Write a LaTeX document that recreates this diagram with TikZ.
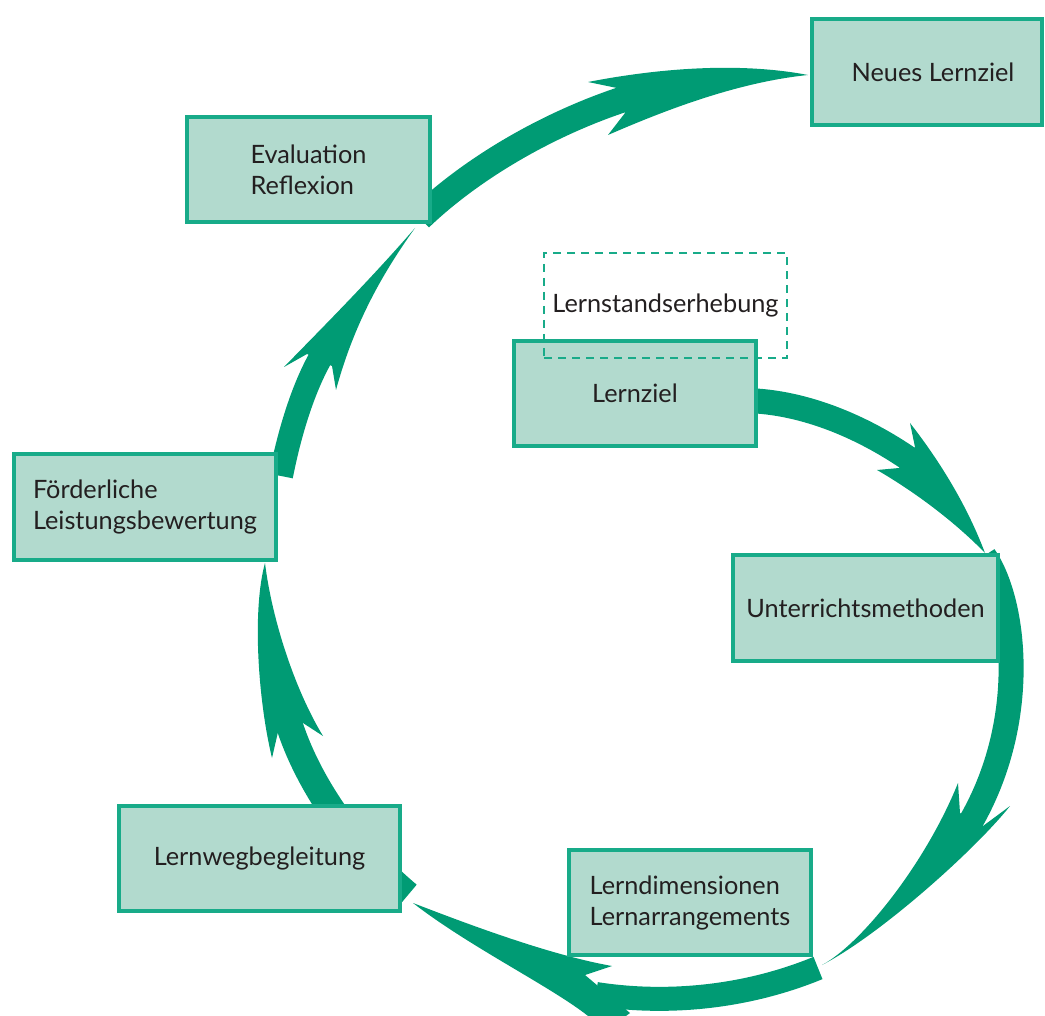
\documentclass[tikz,border=0pt]{standalone}
\usepackage{fontspec}
\setmainfont{Lato}
\definecolor{arrowc}{RGB}{0,155,116}
\definecolor{boxline}{RGB}{24,171,137}
\definecolor{boxfill}{RGB}{178,218,206}
\definecolor{textc}{RGB}{35,31,32}
\tikzset{
  box/.style={draw=boxline, line width=4pt, fill=boxfill, text=textc, align=left,
    font=\fontsize{25.3}{31}\selectfont, inner sep=0pt},
  dbox/.style={draw=boxline, line width=2pt, dash pattern=on 8pt off 6pt, text=textc,
    font=\fontsize{25.3}{31}\selectfont, inner sep=0pt},
  shaft/.style={draw=arrowc, line width=25pt, line cap=butt},
  head/.style={fill=arrowc, draw=none},
}
\begin{document}
\begin{tikzpicture}[x=1pt,y=-1pt]
\useasboundingbox (0,0) rectangle (1045,1016);
\begin{scope}
\clip (0,0) rectangle (1045,1016);
% Arrow 1: Lernziel -> Unterrichtsmethoden
\draw[shaft] (740,400.5) .. controls (800,400) and (862,426) .. (912,461);
\fill[head] (915,447) -- (910,423)
  .. controls (935,455) and (965,500) .. (985,553)
  .. controls (955,522) and (915,492) .. (877,470)
  -- (899,468) -- cycle;
% Arrow 2: Unterrichtsmethoden -> Lerndimensionen
\draw[shaft] (984,556) .. controls (1015,600) and (1030,720) .. (970,823);
\fill[head] (983,826) -- (1010,806)
  .. controls (975,850) and (880,935) .. (822,965)
  .. controls (860,945) and (925,865) .. (958,783)
  -- (960,813) -- cycle;
% Arrow 3: Lerndimensionen -> Lernwegbegleitung
\draw[shaft, line width=24pt] (818,968) .. controls (740,1000) and (660,1004) .. (596,994);
\fill[head] (630,1013) -- (605,1032)
  .. controls (580,1000) and (480,955) .. (413,903)
  .. controls (470,925) and (550,955) .. (612,966)
  -- (585,975) -- cycle;
% Arrow 4: Lernwegbegleitung -> Foerderliche
\draw[shaft, line width=27pt] (408,895) .. controls (360,855) and (310,790) .. (289,724);
\fill[head] (303,723) -- (323,736)
  .. controls (295,690) and (272,620) .. (265,563)
  .. controls (252,610) and (258,700) .. (272,758)
  -- (278,732) -- cycle;
% Arrow 5: Foerderliche -> Evaluation
\draw[shaft, line width=24pt] (281,476) .. controls (288,440) and (301,392) .. (321,357);
\fill[head] (307,354) -- (284,367)
  .. controls (320,330) and (370,280) .. (415,228)
  .. controls (385,270) and (355,320) .. (336,390)
  -- (332,366) -- cycle;
% Arrow 6: Evaluation -> Neues Lernziel
\draw[shaft, line width=26pt] (420,218) .. controls (470,170) and (545,125) .. (624,99);
\fill[head] (617,88) -- (588,82)
  .. controls (660,68) and (740,62) .. (808,75)
  .. controls (740,82) and (670,108) .. (608,135)
  -- (625,113) -- cycle;
\end{scope}
% Boxes
\node[box, minimum width=230pt, minimum height=106pt] (neues) at (927,72) {\hspace*{12pt}Neues Lernziel};
\node[box, minimum width=243pt, minimum height=105pt] (eval) at (308.5,169.5) {Evaluation\\Reflexion};
\node[box, minimum width=242pt, minimum height=105pt] (lernziel) at (635,393.5) {Lernziel};
\node[dbox, minimum width=243pt, minimum height=105pt] (lse) at (665.5,305.5) {Lernstandserhebung};
\node[box, minimum width=265pt, minimum height=106pt] (unterricht) at (865.5,608) {Unterrichtsmethoden};
\node[box, minimum width=262pt, minimum height=106pt] (foerder) at (145,507) {Förderliche\\Leistungsbewertung};
\node[box, minimum width=281pt, minimum height=105pt] (lernweg) at (259.5,858.5) {Lernwegbegleitung};
\node[box, minimum width=242pt, minimum height=105pt] (lerndim) at (690,902.5) {Lerndimensionen\\Lernarrangements};
\end{tikzpicture}
\end{document}
